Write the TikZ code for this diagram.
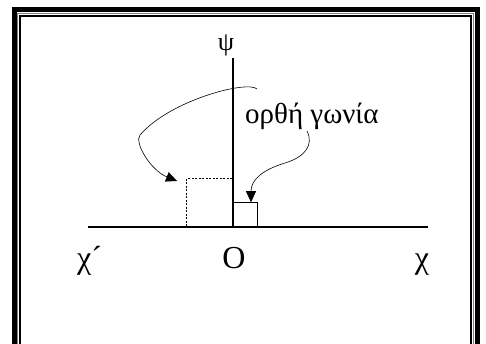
\documentclass[tikz,border=0pt]{standalone}
\usepackage{fontspec}
\setmainfont{Liberation Serif}
\usetikzlibrary{arrows.meta}
\begin{document}
\begin{tikzpicture}[x=1pt,y=-1pt,
  axis/.style={line width=2pt},
  lbl/.style={inner sep=0pt, font=\fontsize{32}{36}\selectfont},
  callout/.style={line width=0.6pt, -{Triangle[length=11pt,width=10pt]}},
  framethick/.style={line width=4.6pt},
  framegray/.style={line width=1pt, gray},
  framethin/.style={line width=1.5pt},
]
\useasboundingbox (0,0) rectangle (486,343);
% frame
\draw[framethick] (14.3,350) -- (14.3,9.5) -- (477.5,9.5) -- (477.5,350);
\draw[framegray] (17.5,350) -- (17.5,13.5) -- (473,13.5) -- (473,350);
\draw[framethin] (19.8,350) -- (19.8,16) -- (470.8,16) -- (470.8,350);
% axes
\coordinate (xl) at (88,227);
\coordinate (xr) at (428,227);
\coordinate (o) at (233,227);
\coordinate (yt) at (233,58);
\draw[axis] (xl) -- (xr);
\draw[axis] (o) -- (yt);
% squares
\node[draw, line width=0.8pt, minimum width=24pt, minimum height=24pt, inner sep=0pt, anchor=south west] (sq) at (233,227) {};
\node[draw, dashed, line width=0.6pt, dash pattern=on 2pt off 1.5pt, minimum width=46pt, minimum height=48pt, inner sep=0pt, anchor=south east] (dsq) at (233,227) {};
% labels
\node[inner sep=0pt, anchor=base, font=\fontsize{26}{30}\selectfont] (psi) at (226,50) {ψ};
\node[inner sep=0pt, anchor=base west, font=\fontsize{29}{33}\selectfont] (txt) at (245,123) {ορθή γωνία};
\node[lbl, anchor=base west] (xp) at (77,268) {χ´};
\node[lbl, anchor=base] (olab) at (234,268) {O};
\node[lbl, anchor=base] (xlab) at (422,268) {χ};
% callouts
\coordinate (a1s) at (257,89);
\coordinate (a1m) at (140,135);
\coordinate (a1e) at (177,181);
\draw[callout] (a1s) .. controls (248,80) and (170,100) .. (a1m)
  .. controls (134,142) and (150,170) .. (a1e);
\coordinate (a2s) at (307,131);
\coordinate (a2m) at (285,163);
\coordinate (a2e) at (sq.north -| 251,0);
\draw[callout] (a2s) .. controls (314,145) and (305,157) .. (a2m)
  .. controls (262,170) and (251,180) .. (a2e);
\end{tikzpicture}
\end{document}
